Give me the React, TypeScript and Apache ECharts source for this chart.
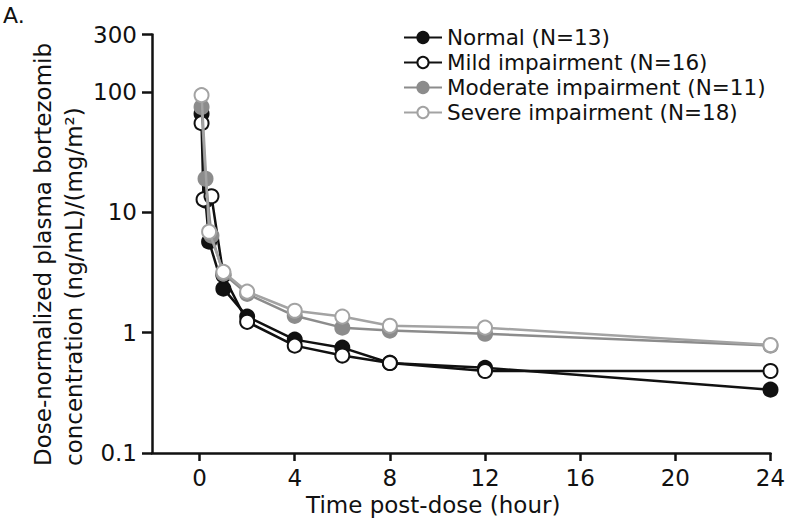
import React, { useEffect, useRef } from 'react';
import * as echarts from 'echarts';

const FONT = 'DejaVu Sans';

const seriesNames = [
  'Normal (N=13)',
  'Mild impairment (N=16)',
  'Moderate impairment (N=11)',
  'Severe impairment (N=18)',
];

const normalT = [0.083, 0.25, 0.4, 1, 2, 4, 6, 8, 12, 24];
const normalV = [66, 12.5, 5.7, 2.32, 1.36, 0.875, 0.75, 0.56, 0.51, 0.336];

const mildT = [0.083, 0.167, 0.5, 1, 2, 4, 6, 8, 12, 24];
const mildV = [55, 12.8, 13.6, 3.0, 1.23, 0.78, 0.645, 0.56, 0.48, 0.48];

const moderateT = [0.083, 0.25, 0.5, 1, 2, 4, 6, 8, 12, 24];
const moderateV = [75, 19, 6.4, 3.1, 2.1, 1.38, 1.1, 1.04, 0.98, 0.78];

const severeT = [0.083, 0.4, 1, 2, 4, 6, 8, 12, 24];
const severeV = [94, 6.9, 3.2, 2.19, 1.52, 1.36, 1.14, 1.1, 0.79];

const xTicks = [0, 4, 8, 12, 16, 20, 24];
const yTicks = [0.1, 1, 10, 100, 300];

const yTitle = 'Dose-normalized plasma bortezomib\nconcentration (ng/mL)/(mg/m²)';
const xTitle = 'Time post-dose (hour)';
const panelLabel = 'A.';

const pairs = (t: number[], v: number[]) => t.map((x, i) => [x, v[i]]);

const styles = [
  { line: '#111111', fill: '#111111', border: '#111111' },
  { line: '#111111', fill: '#ffffff', border: '#111111' },
  { line: '#8c8c8c', fill: '#8c8c8c', border: '#8c8c8c' },
  { line: '#a3a3a3', fill: '#ffffff', border: '#a3a3a3' },
];

export default function App() {
  const ref = useRef<HTMLDivElement>(null);
  useEffect(() => {
    document.body.style.margin = '0';
    const chart = echarts.init(ref.current!, null, { renderer: 'svg' });
    const data = [
      pairs(normalT, normalV),
      pairs(mildT, mildV),
      pairs(moderateT, moderateV),
      pairs(severeT, severeV),
    ];
    chart.setOption({
      animation: false,
      backgroundColor: '#ffffff',
      grid: { left: 152, right: 29.5, top: 34.5, bottom: 67, outerBoundsMode: 'none', containLabel: false },
      legend: {
        data: seriesNames,
        orient: 'vertical',
        left: 398,
        top: 21,
        itemWidth: 38,
        itemHeight: 14,
        itemGap: 2,
        textStyle: { fontFamily: FONT, fontSize: 21.5, color: '#111', lineHeight: 23 },
      },
      xAxis: {
        type: 'value',
        min: -2,
        max: 24,
        axisLine: { onZero: false, lineStyle: { color: '#111', width: 2.5 } },
        axisTick: { customValues: xTicks, length: 8, lineStyle: { color: '#111', width: 2.5 } },
        axisLabel: { customValues: xTicks, margin: 13, fontFamily: FONT, fontSize: 23, color: '#111' },
        splitLine: { show: false },
        name: xTitle,
        nameLocation: 'middle',
        nameGap: 38,
        nameTextStyle: { fontFamily: FONT, fontSize: 23, color: '#111', padding: [0, 56, 0, 0] },
      },
      yAxis: {
        type: 'log',
        logBase: 10,
        min: 0.1,
        max: 300,
        axisLine: { show: true, onZero: false, lineStyle: { color: '#111', width: 2.5 } },
        axisTick: { show: true, customValues: yTicks, length: 10, lineStyle: { color: '#111', width: 2.5 } },
        axisLabel: { customValues: yTicks, margin: 15, fontFamily: FONT, fontSize: 23, color: '#111', formatter: (v: number) => String(v) },
        splitLine: { show: false },
        minorTick: { show: false },
      },
      graphic: [
        {
          type: 'text',
          left: 3,
          top: 4,
          style: { text: panelLabel, font: `22px "${FONT}"`, fill: '#111' },
        },
        {
          type: 'text',
          x: 27,
          y: 466,
          rotation: Math.PI / 2,
          style: {
            text: yTitle,
            font: `23px "${FONT}"`,
            fill: '#111',
            textAlign: 'left',
            textVerticalAlign: 'top',
            lineHeight: 31,
          },
        },
      ],
      series: data.map((d, i) => ({
        name: seriesNames[i],
        type: 'line',
        data: d,
        symbol: 'circle',
        symbolSize: 14,
        showSymbol: true,
        lineStyle: { color: styles[i].line, width: 2.5 },
        itemStyle: { color: styles[i].fill, borderColor: styles[i].border, borderWidth: 2 },
        emphasis: { disabled: true },
        z: 2 + i,
      })),
    });
    return () => chart.dispose();
  }, []);
  return <div ref={ref} style={{ width: 800, height: 520 }} />;
}
